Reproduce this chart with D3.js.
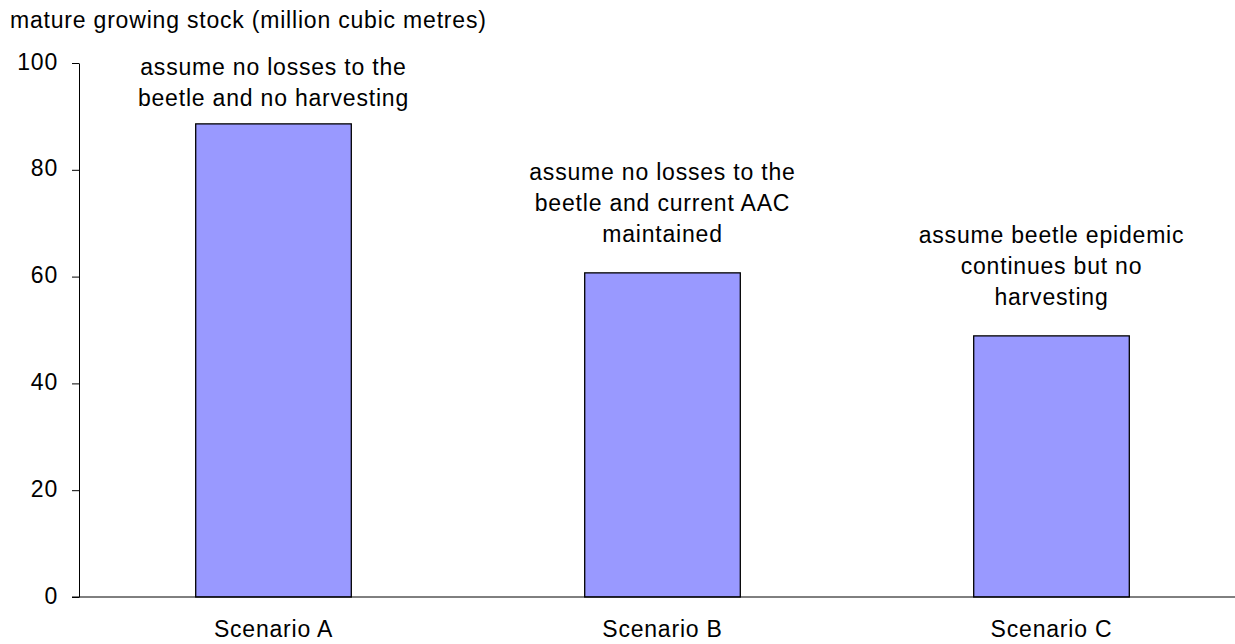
<!DOCTYPE html>
<html>
<head>
<meta charset="utf-8">
<script src="https://cdn.jsdelivr.net/npm/d3@7"></script>
<style>
  html, body { margin: 0; padding: 0; background: #fff; }
  svg { display: block; }
  text { font-family: "Liberation Sans", Arial, sans-serif; fill: #000; }
</style>
</head>
<body>
<script>
const categories = ["Scenario A", "Scenario B", "Scenario C"];
const values = [88.6, 60.7, 48.9];
const annotations = [
  ["assume no losses to the", "beetle and no harvesting"],
  ["assume no losses to the", "beetle and current AAC", "maintained"],
  ["assume beetle epidemic", "continues but no", "harvesting"]
];
const yTicks = [0, 20, 40, 60, 80, 100];
const yTitle = "mature growing stock (million cubic metres)";

const W = 1235, H = 644;
const fontSize = 23, letterSp = 0.8, lineH = 31;

const svg = d3.select("body").append("svg").attr("width", W).attr("height", H);

const x = d3.scaleBand().domain(categories).range([79, 1246]).paddingInner(0.6).paddingOuter(0.3);
const y = d3.scaleLinear().domain([0, 100]).range([597, 63]);

// bars
svg.selectAll("rect.bar").data(values).join("rect")
  .attr("class", "bar")
  .attr("x", (d, i) => x(categories[i]))
  .attr("y", d => y(d))
  .attr("width", x.bandwidth())
  .attr("height", d => y(0) - y(d))
  .attr("fill", "#9999FF")
  .attr("stroke", "#000")
  .attr("stroke-width", 1.3);

// y axis
const yAxis = d3.axisLeft(y).tickValues(yTicks).tickSize(7).tickSizeOuter(0).tickPadding(14);
const gy = svg.append("g").attr("transform", "translate(79,0)").call(yAxis);
gy.select(".domain").attr("stroke", "#000").attr("stroke-width", 1);
gy.selectAll(".tick line").attr("stroke", "#000");
gy.selectAll(".tick text")
  .attr("font-size", fontSize)
  .attr("letter-spacing", letterSp + "px")
  .attr("dy", "6px")
  .attr("font-family", "Liberation Sans, Arial, sans-serif")
  .attr("fill", "#000");

// x axis line
svg.append("line")
  .attr("x1", 72).attr("x2", W)
  .attr("y1", y(0)).attr("y2", y(0))
  .attr("stroke", "#000").attr("stroke-width", 1);

// category labels
svg.selectAll("text.cat").data(categories).join("text")
  .attr("class", "cat")
  .attr("x", d => x(d) + x.bandwidth() / 2)
  .attr("y", 637)
  .attr("text-anchor", "middle")
  .attr("font-size", fontSize)
  .attr("letter-spacing", letterSp + "px")
  .text(d => d);

// annotations
annotations.forEach((lines, i) => {
  const cx = x(categories[i]) + x.bandwidth() / 2;
  let lastBase = y(values[i]) - 31;
  let firstBase = lastBase - (lines.length - 1) * lineH;
  if (firstBase < 75) { firstBase = 75; }
  lines.forEach((t, j) => {
    svg.append("text")
      .attr("x", cx)
      .attr("y", firstBase + j * lineH)
      .attr("text-anchor", "middle")
      .attr("font-size", fontSize)
      .attr("letter-spacing", letterSp + "px")
      .text(t);
  });
});

// y title
svg.append("text")
  .attr("x", 10).attr("y", 28)
  .attr("font-size", fontSize)
  .attr("letter-spacing", letterSp + "px")
  .text(yTitle);
</script>
</body>
</html>
